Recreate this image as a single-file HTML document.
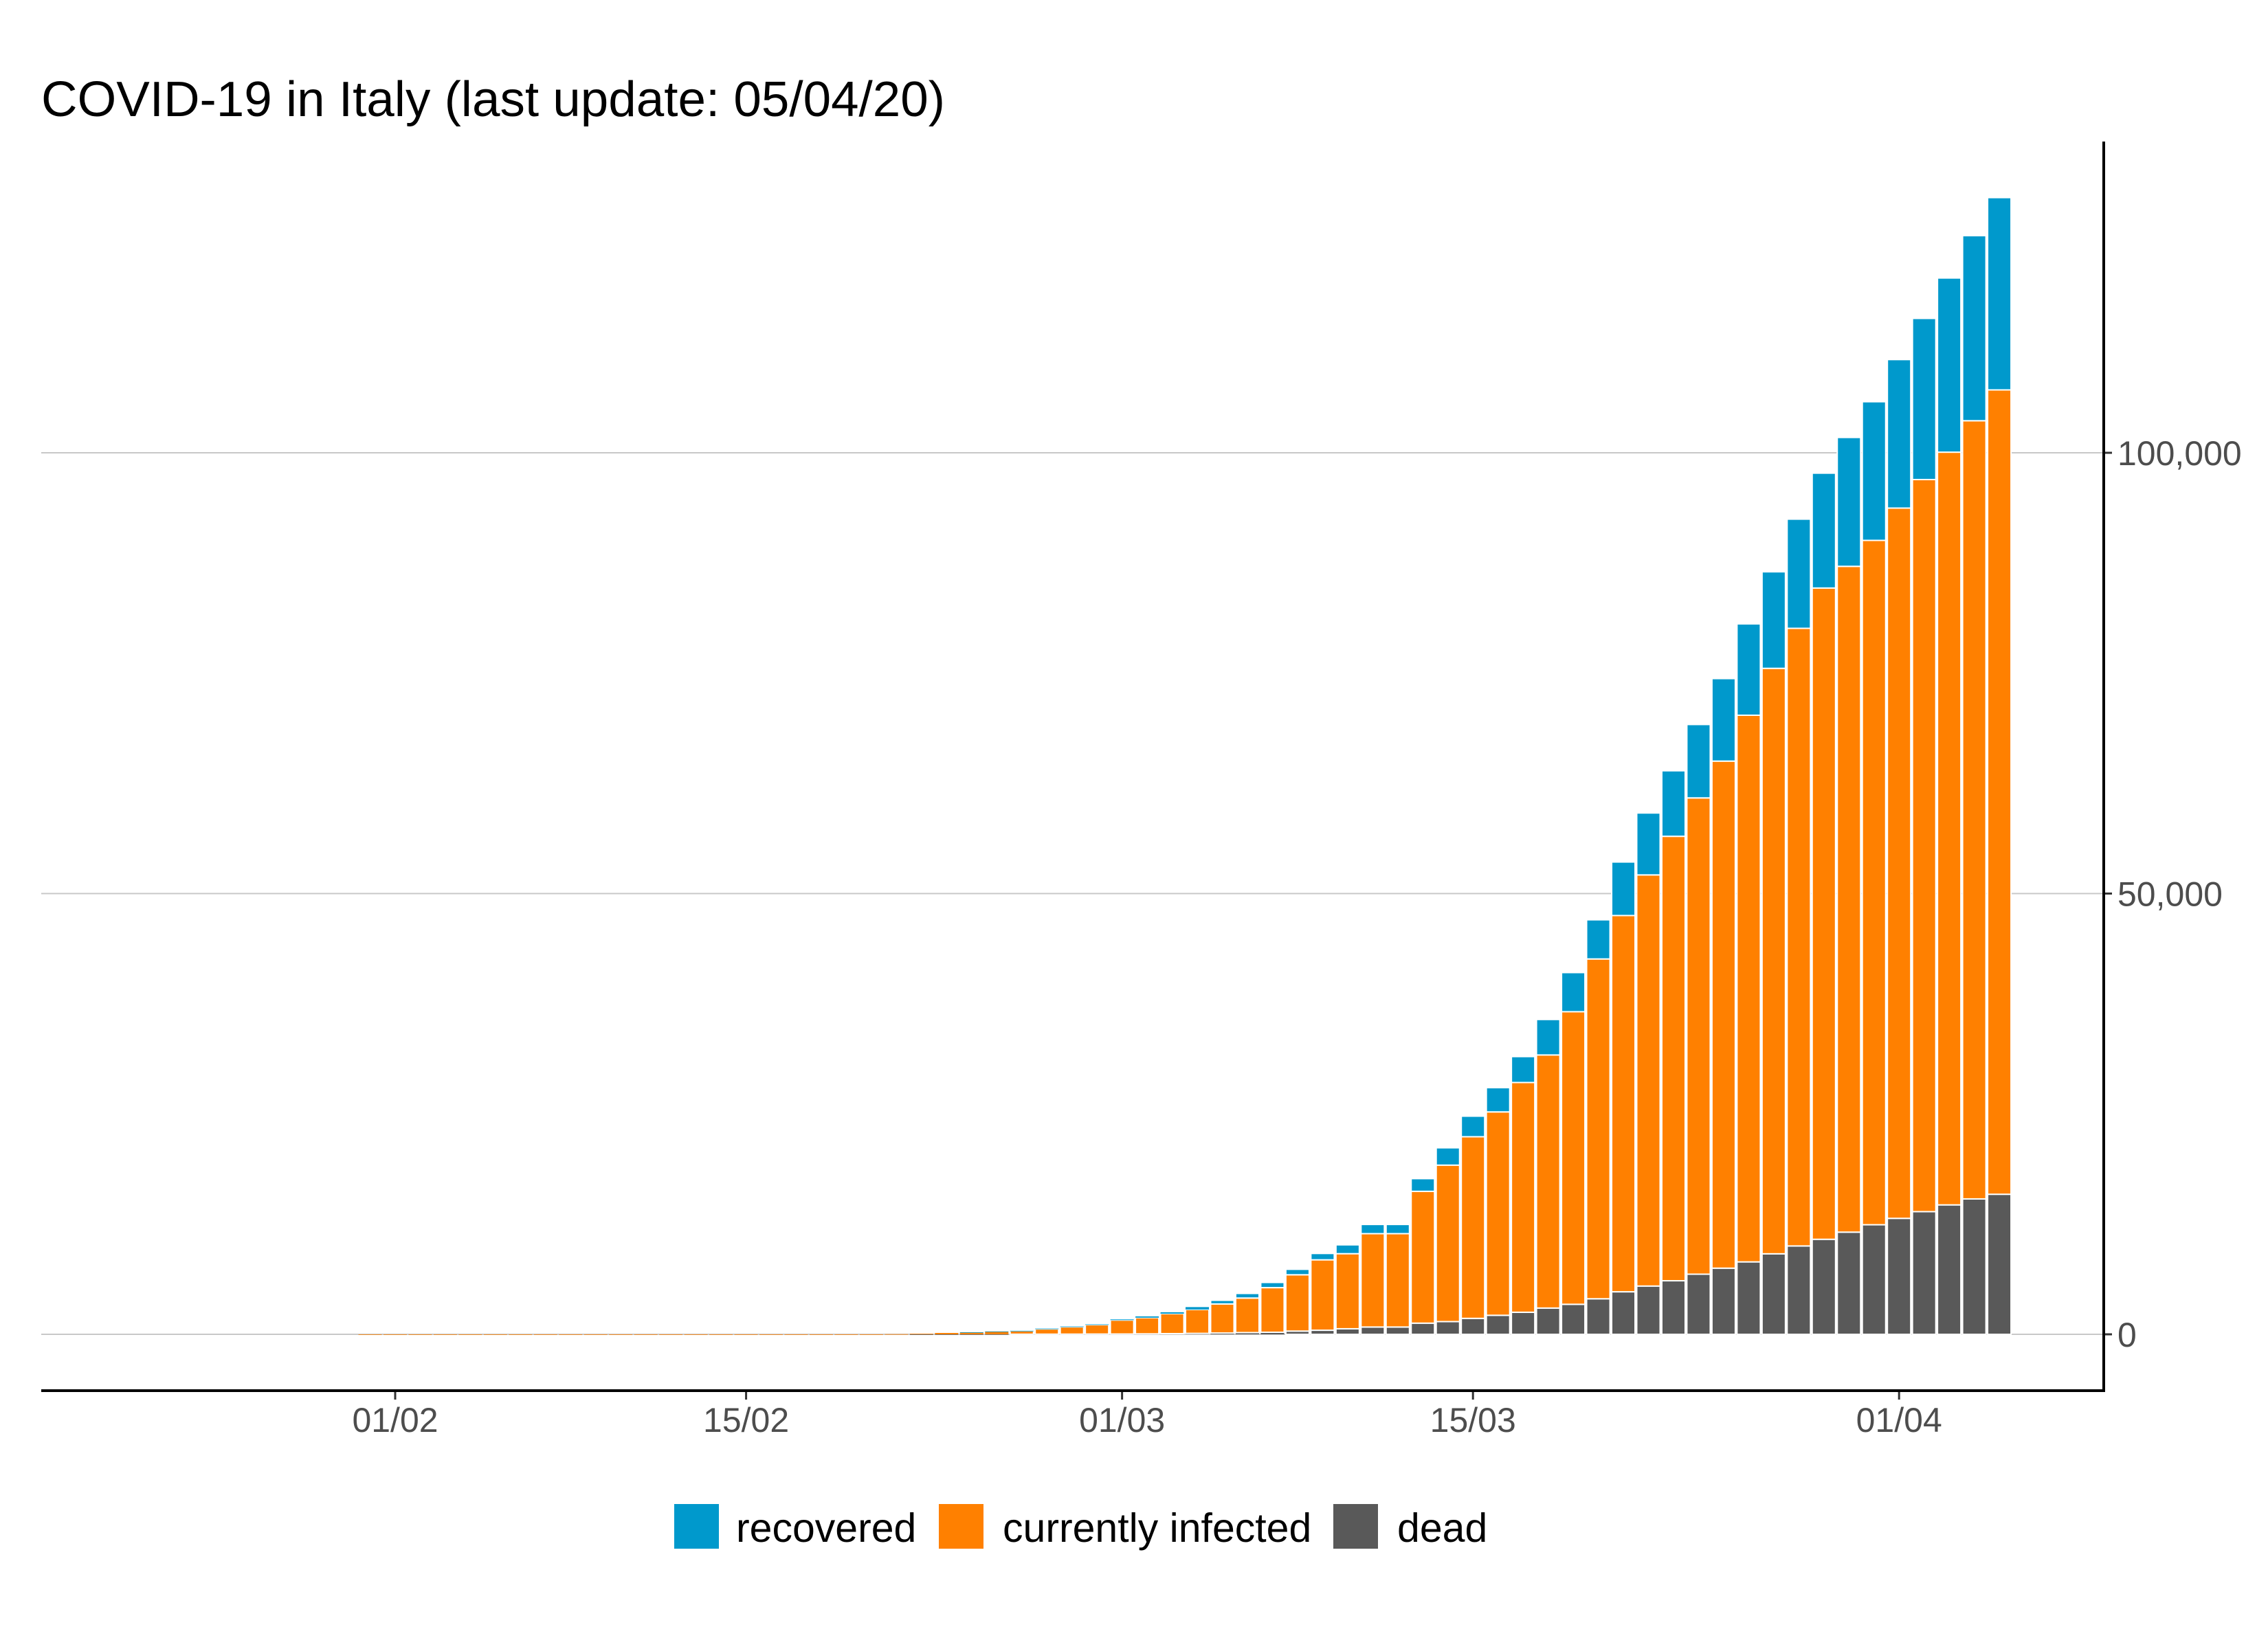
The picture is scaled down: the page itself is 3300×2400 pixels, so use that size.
<!DOCTYPE html>
<html><head><meta charset="utf-8"><style>
html,body{margin:0;padding:0;background:#fff}
svg{display:block;font-family:"Liberation Sans",sans-serif}
</style></head><body>
<svg id="chart" width="3300" height="2400" viewBox="0 0 3300 2400" xmlns="http://www.w3.org/2000/svg">
<rect width="3300" height="2400" fill="#fff"/>
<text x="60" y="169" font-size="72" textLength="1315" lengthAdjust="spacingAndGlyphs" fill="#000">COVID-19 in Italy (last update: 05/04/20)</text>
<g id="grid"></g>
<g id="bars"></g>
<g id="axes"></g>
<g>
<rect x="981" y="2189" width="65" height="65" fill="#0099cc"/>
<text x="1071" y="2244" font-size="59" fill="#000">recovered</text>
<rect x="1366" y="2189" width="65" height="65" fill="#ff8000"/>
<text x="1459" y="2244" font-size="59" fill="#000">currently infected</text>
<rect x="1940" y="2189" width="65" height="65" fill="#595959"/>
<text x="2033" y="2244" font-size="59" fill="#000">dead</text>
</g>
</svg>
<script>
// days from 31/01 (index 0) to 05/04
const totalCases = [2,2,2,2,2,2,2,3,3,3,3,3,3,3,3,3,3,3,3,3,3,20,62,155,
229,322,400,650,888,1128,1694,2036,2502,3089,3858,4636,5883,7375,9172,10149,12462,12462,17660,21157,24747,27980,31506,35713,41035,47021,53578,59138,63927,69176,74386,80589,86498,92472,97689,101739,105792,110574,115242,119827,124632,128948];
const recovered = [0,0,0,0,0,0,0,0,0,0,0,0,0,0,0,0,0,0,0,0,0,0,0,0,
1,1,3,45,46,46,83,149,160,276,414,523,589,622,724,1004,1045,1045,1439,1966,2335,2749,2941,4025,4440,4440,6072,7024,7432,8326,9362,10361,10950,12384,13030,14620,15729,16847,18278,19758,20996,21815];
const dead = [0,0,0,0,0,0,0,0,0,0,0,0,0,0,0,0,0,0,0,0,0,0,2,3,
7,10,12,17,21,29,34,52,79,107,148,197,233,366,463,631,827,827,1266,1441,1809,2158,2503,2978,3405,4032,4825,5476,6077,6820,7503,8215,9134,10023,10779,11591,12428,13155,13915,14681,15362,15887];
const xTickLabels = ["01/02","15/02","01/03","15/03","01/04"];
const xTickIndex = [1,15,30,44,61];
const yTickValues = [0,50000,100000];
const yTickLabels = ["0","50,000","100,000"];

const NS="http://www.w3.org/2000/svg";
const X0=575, DAY=36.47, Y0=1942, YS=(1942-659)/100000;
function xs(i){return X0+(i-1)*DAY;}
function ys(v){return Y0-v*YS;}
function mk(tag,attrs,parent){const e=document.createElementNS(NS,tag);for(const k in attrs)e.setAttribute(k,attrs[k]);parent.appendChild(e);return e;}
const grid=document.getElementById('grid'),bars=document.getElementById('bars'),axes=document.getElementById('axes');
yTickValues.forEach((v,k)=>{
  const l=mk('line',{x1:60,x2:3061,y1:ys(v),y2:ys(v),stroke:'#c8c8c8','stroke-width':2},grid);
  
  
  const t=mk('line',{x1:3061,x2:3073,y1:ys(v),y2:ys(v),stroke:'#333','stroke-width':3},axes);
  
  
  const tx=mk('text',{x:3081,y:ys(v)+18,'font-size':50,fill:'#4d4d4d'},axes);
  tx.textContent=yTickLabels[k];
  
  
});
const BW=34;
totalCases.forEach((tot,i)=>{
  const d=dead[i],r=recovered[i],inf=tot-d-r;
  const x=xs(i)-BW/2;
  const segs=[[0,d,'#595959','dead'],[d,d+inf,'#ff8000','infected'],[d+inf,tot,'#0099cc','recovered']];
  segs.forEach(s=>{
    if(s[1]-s[0]<=0)return;
    const h=Math.max(ys(s[0])-ys(s[1]),0.8);
    const b=mk('rect',{x:x,y:ys(s[1]),width:BW,height:h,fill:s[2],stroke:'#fff','stroke-width':h>4?2:0},bars);
    
    
  });
});
const ax1=mk('line',{x1:60,x2:3063,y1:2024,y2:2024,stroke:'#000','stroke-width':4},axes);


const ax2=mk('line',{x1:3061,x2:3061,y1:206,y2:2026,stroke:'#000','stroke-width':4},axes);


xTickLabels.forEach((lab,k)=>{
  const x=xs(xTickIndex[k]);
  const t=mk('line',{x1:x,x2:x,y1:2026,y2:2037,stroke:'#333','stroke-width':3},axes);
  
  
  const tx=mk('text',{x:x,y:2084,'font-size':50,fill:'#4d4d4d','text-anchor':'middle'},axes);
  tx.textContent=lab;
  
  
});
</script>
</body></html>
